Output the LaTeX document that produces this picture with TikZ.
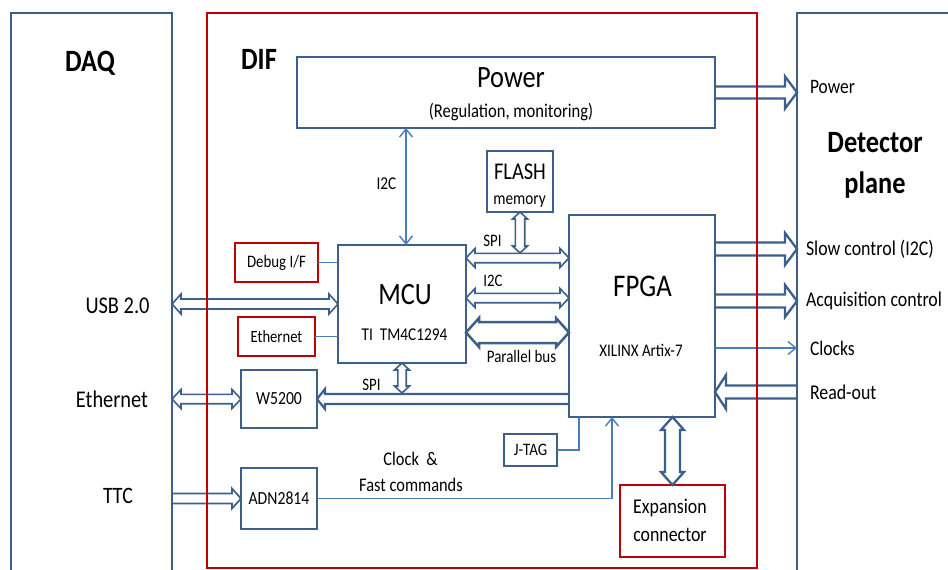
\documentclass[tikz,border=0pt]{standalone}
\usepackage{fontspec}
\setmainfont[FakeStretch=0.85]{Carlito}
\usetikzlibrary{arrows.meta,calc}
\definecolor{boxblue}{HTML}{3C5F8C}
\definecolor{sigblue}{HTML}{4A7EBB}
\definecolor{difred}{HTML}{C00000}
\newcommand{\fsz}[1]{\fontsize{#1}{#1}\selectfont}
\tikzset{
  blk/.style={draw=boxblue,line width=2.2pt},
  smallblk/.style={draw=boxblue,line width=1.6pt,font=\fsz{18.5}},
  redblk/.style={draw=difred,line width=2pt},
  sig/.style={draw=sigblue,line width=1.4pt},
  % block arrow: shaft half width, head half width, head length
  bus1/.style n args={3}{draw=boxblue,line join=miter,to path={
    ($(\tikztostart)!#1!90:(\tikztotarget)$)
    -- ($(\tikztotarget)!#3!(\tikztostart)!#1!90:(\tikztotarget)$)
    -- ($(\tikztotarget)!#3!(\tikztostart)!#2!90:(\tikztotarget)$)
    -- (\tikztotarget)
    -- ($(\tikztotarget)!#3!(\tikztostart)!#2!-90:(\tikztotarget)$)
    -- ($(\tikztotarget)!#3!(\tikztostart)!#1!-90:(\tikztotarget)$)
    -- ($(\tikztostart)!#1!-90:(\tikztotarget)$)}},
  bus2/.style n args={3}{draw=boxblue,line join=miter,to path={
    ($(\tikztostart)!#3!(\tikztotarget)!#1!90:(\tikztotarget)$)
    -- ($(\tikztotarget)!#3!(\tikztostart)!#1!90:(\tikztotarget)$)
    -- ($(\tikztotarget)!#3!(\tikztostart)!#2!90:(\tikztotarget)$)
    -- (\tikztotarget)
    -- ($(\tikztotarget)!#3!(\tikztostart)!#2!-90:(\tikztotarget)$)
    -- ($(\tikztotarget)!#3!(\tikztostart)!#1!-90:(\tikztotarget)$)
    -- ($(\tikztostart)!#3!(\tikztotarget)!#1!-90:(\tikztotarget)$)
    -- ($(\tikztostart)!#3!(\tikztotarget)!#2!-90:(\tikztotarget)$)
    -- (\tikztostart)
    -- ($(\tikztostart)!#3!(\tikztotarget)!#2!90:(\tikztotarget)$)
    -- cycle}},
}

\begin{document}
\begin{tikzpicture}[x=1pt,y=-1pt,>={Straight Barb[length=8pt,width=13pt]},every node/.style={inner sep=0pt,outer sep=0pt}]
  \useasboundingbox (0,0) rectangle (948,570);

  \node[draw=boxblue,line width=2pt,minimum width=161pt,minimum height=600pt] (DAQ) at (91.5,313) {};
  \node[draw=boxblue,line width=2pt,minimum width=213pt,minimum height=600pt] (DET) at (903.5,313) {};
  \node[font=\bfseries\fsz{31},anchor=base] (DAQt) at (90,71) {DAQ};
  \node[font=\bfseries\fsz{31},anchor=base] (DIFt) at (259,69) {DIF};
  \node[font=\bfseries\fsz{31},anchor=base] (DETt) at (875,152) {Detector};
  \node[font=\bfseries\fsz{31},anchor=base] (DETs) at (875,193) {plane};

  \node[blk,minimum width=418pt,minimum height=71pt] (PWR) at (506,92.5) {};
  \node[blk,minimum width=128pt,minimum height=118pt] (MCU) at (402,304) {};
  \node[blk,minimum width=146pt,minimum height=202pt] (FPGA) at (642,316) {};
  \node[smallblk,minimum width=66pt,minimum height=61pt] (FLASH) at (520,181.5) {};
  \node[smallblk,minimum width=76pt,minimum height=58pt] (W52) at (279,399) {W5200};
  \node[smallblk,minimum width=76pt,minimum height=61pt] (ADN) at (279,498.5) {ADN2814};
  \node[smallblk,line width=1.3pt,minimum width=53pt,minimum height=32pt,font=\fsz{17.5}] (JTAG) at (530.5,450) {J-TAG};
  \node[redblk,minimum width=83pt,minimum height=39pt,font=\fsz{17.5}] (DBG) at (276.5,262.5) {Debug I/F};
  \node[redblk,minimum width=77pt,minimum height=39pt,font=\fsz{17.2}] (ETH) at (276.5,336.5) {Ethernet};
  \node[redblk,minimum width=105pt,minimum height=72pt] (EXP) at (672.5,521) {};

  \node[anchor=base,font=\fsz{31}] (PWRt) at (511,87) {Power};
  \node[anchor=base,font=\fsz{19.5}] (PWRs) at (511,117) {(Regulation, monitoring)};
  \node[anchor=base,font=\fsz{31}] (MCUt) at (405,304) {MCU};
  \node[anchor=base,font=\fsz{18}] (MCUs) at (404.5,340) {TI\ \ TM4C1294};
  \node[anchor=base,font=\fsz{31.5}] (FPGAt) at (642.5,296) {FPGA};
  \node[anchor=base,font=\fsz{17.7}] (FPGAs) at (641,356.5) {XILINX Artix-7};
  \node[anchor=base,font=\fsz{24}] (FLASHt) at (520,179) {FLASH};
  \node[anchor=base,font=\fsz{18}] (FLASHs) at (519.5,204) {memory};
  \node[anchor=base,font=\fsz{21}] (EXPt) at (670,513) {Expansion};
  \node[anchor=base,font=\fsz{21}] (EXPs) at (670,541.5) {connector};

  \node[anchor=base,font=\fsz{18}] (I2Cv) at (386.5,189) {I2C};
  \node[anchor=base,font=\fsz{17.5}] (SPIt) at (492.5,246.5) {SPI};
  \node[anchor=base,font=\fsz{17.5}] (I2Ch) at (493,286.5) {I2C};
  \node[anchor=base,font=\fsz{17.6}] (PARt) at (521.5,362) {Parallel bus};
  \node[anchor=base,font=\fsz{17.5}] (SPIb) at (371.5,390.5) {SPI};
  \node[anchor=base,font=\fsz{19.3}] (CLKt) at (410.5,465) {Clock\ \ \&};
  \node[anchor=base,font=\fsz{19.3}] (FCt) at (411,491.5) {Fast commands};

  \node[anchor=base,font=\fsz{24}] (USB) at (117.5,313) {USB 2.0};
  \node[anchor=base,font=\fsz{24}] (ETHd) at (112,407.5) {Ethernet};
  \node[anchor=base,font=\fsz{23.5}] (TTC) at (118,503) {TTC};

  \node[anchor=west,font=\fsz{20.5}] (PWRd) at (810,87) {Power};
  \node[anchor=west,font=\fsz{21}] (SC) at (806,249) {Slow control (I2C)};
  \node[anchor=west,font=\fsz{21}] (ACQ) at (806,301) {Acquisition control};
  \node[anchor=west,font=\fsz{20.7}] (CLKS) at (810,348) {Clocks};
  \node[anchor=west,font=\fsz{21}] (RO) at (810,392) {Read-out};

  \coordinate (spi) at (518,258);
  \coordinate (i2c) at (518,298);
  \coordinate (par) at (518,332.5);

  \draw [line width=2.3pt,bus1={6pt}{16pt}{12pt}](PWR.east) to (PWR.east -| DET.west);
  \draw [line width=2.3pt,bus1={6.5pt}{16pt}{12pt}](FPGA.east |- SC.west) to (DET.west |- SC.west);
  \draw [line width=2.3pt,bus1={6.5pt}{16pt}{12pt}](FPGA.east |- ACQ.west) to (DET.west |- ACQ.west);
  \draw [sig,->](FPGA.east |- CLKS.west) -- (DET.west |- CLKS.west);
  \draw [line width=2.3pt,bus1={6.5pt}{17pt}{11pt}](DET.west |- RO.west) to (FPGA.east |- RO.west);

  \draw [line width=1.6pt,bus2={5pt}{10pt}{9pt}](DAQ.east |- MCU.west) to (MCU.west);
  \draw [line width=1.6pt,bus2={4.7pt}{9.5pt}{9pt}](DAQ.east |- W52.west) to (W52.west);
  \draw [line width=1.7pt,bus1={5pt}{10pt}{9pt}](DAQ.east |- ADN.west) to (ADN.west);
  \draw [sig](DBG.east) -- (DBG.east -| MCU.west);
  \draw [sig](ETH.east) -- (ETH.east -| MCU.west);

  \draw [sig,<->]([xshift=4pt]PWR.south -| MCU.north) -- ([xshift=4pt]MCU.north);
  \draw [line width=1.6pt,bus2={4.7pt}{9.5pt}{9pt}](MCU.east |- spi) to (FPGA.west |- spi);
  \draw [line width=1.6pt,bus2={4.7pt}{9.5pt}{9pt}](MCU.east |- i2c) to (FPGA.west |- i2c);
  \draw [line width=2.5pt,bus2={10.5pt}{14.5pt}{13pt}](MCU.east |- par) to (FPGA.west |- par);
  \draw [line width=1.6pt,bus2={4.7pt}{7.5pt}{7pt}](FLASH.south) to ([yshift=5pt]FLASH.south |- spi);
  \draw [line width=2.2pt,bus1={5pt}{10pt}{8pt}](FPGA.west |- W52.east) to (W52.east);
  \draw [line width=1.6pt,bus2={4.2pt}{7.5pt}{7pt}](MCU.south) to ([yshift=6pt]MCU.south |- W52.east);
  \draw [line width=2.3pt,bus2={7.5pt}{11.5pt}{13pt}](EXP.north |- FPGA.south) to (EXP.north);
  \draw [sig,->](ADN.east) -| ([xshift=-30pt]FPGA.south);
  \draw [sig](JTAG.east) -| ([xshift=10pt]FPGA.south west);

  \node[draw=difred,line width=2.3pt,minimum width=550pt,minimum height=555pt] (DIF) at (482,290.5) {};
\end{tikzpicture}
\end{document}
